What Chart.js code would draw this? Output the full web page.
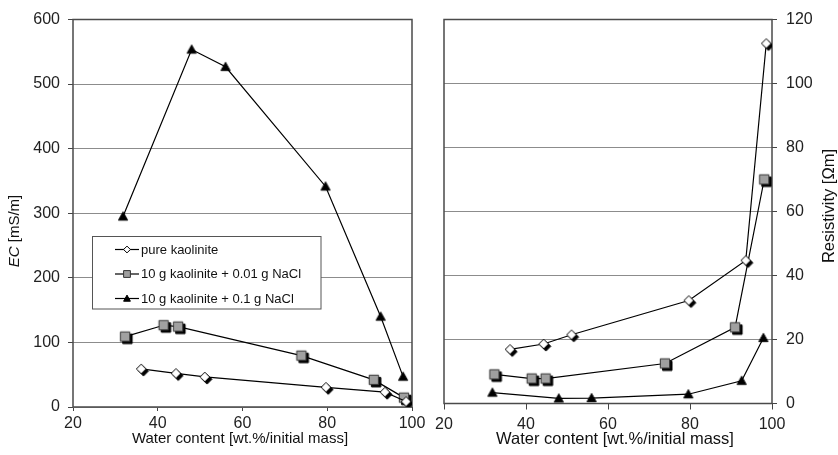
<!DOCTYPE html>
<html><head><meta charset="utf-8">
<script src="https://cdn.jsdelivr.net/npm/chart.js@4/dist/chart.umd.min.js"></script>
<style>
html,body{margin:0;padding:0;background:#fff;}
#wrap{position:relative;width:838px;height:455px;background:#fff;}
canvas{position:absolute;left:0;top:0;}
</style>
</head><body>
<div id="wrap"><canvas id="c1" width="838" height="455"></canvas><canvas id="c2" width="838" height="455"></canvas></div>
<script>
// ---- data ----
const seriesLabels = ["pure kaolinite", "10 g kaolinite + 0.01 g NaCl", "10 g kaolinite + 0.1 g NaCl"];
const waterPure  = [36.1, 44.3, 51.1, 79.7, 93.6, 98.6];
const waterNaCl1 = [32.3, 41.4, 44.8, 73.9, 91.0, 98.1];
const waterNaCl2 = [31.8, 48.0, 56.0, 79.6, 92.6, 97.9];
const ecPure  = [59, 52, 46.5, 30.5, 23, 8.5];
const ecNaCl1 = [109, 126.6, 124.5, 79.5, 42, 14.5];
const ecNaCl2 = [295, 553.5, 526.7, 341.5, 140, 47];
const resPure  = [16.9, 18.6, 21.5, 32.2, 44.7, 112.5];
const resNaCl1 = [9.1, 7.8, 7.8, 12.5, 23.8, 70];
const resNaCl2 = [3.4, 1.6, 1.7, 2.9, 7.1, 20.5];
const xTicks = [20, 40, 60, 80, 100];
const ecTicks = [0, 100, 200, 300, 400, 500, 600];
const resTicks = [0, 20, 40, 60, 80, 100, 120];
const xTitle = "Water content [wt.%/initial mass]";
const ecTitleItalic = "EC", ecTitleRest = " [mS/m]";
const resTitle = "Resistivity [Ωm]";

const FONT = "'Liberation Sans', Arial, Helvetica, sans-serif";
const kinds = ['diamond', 'square', 'tri'];

function drawShape(g, kind, x, y, r, fill, stroke) {
  g.beginPath();
  if (kind === 'diamond') { g.moveTo(x, y - r); g.lineTo(x + r, y); g.lineTo(x, y + r); g.lineTo(x - r, y); g.closePath(); }
  else if (kind === 'square') { g.rect(x - r, y - r, 2 * r, 2 * r); }
  else { g.moveTo(x, y - r); g.lineTo(x + r, y + r * 0.8); g.lineTo(x - r, y + r * 0.8); g.closePath(); }
  g.fillStyle = fill; g.fill();
  g.lineWidth = 1; g.strokeStyle = stroke; g.stroke();
}
const styleOf = {
  diamond: { r: 4.8, fill: '#fff', stroke: '#000' },
  square: { r: 4.7, fill: '#a0a0a0', stroke: '#333' },
  tri: { r: 4.6, fill: '#000', stroke: '#000' }
};
function markerCanvas(kind) {
  const s = 22, c = document.createElement('canvas'); c.width = s; c.height = s;
  const g = c.getContext('2d'); const st = styleOf[kind];
  if (kind !== 'tri') drawShape(g, kind, s / 2 + 2.3, s / 2 + 2.3, st.r, '#000', '#000');
  drawShape(g, kind, s / 2, s / 2, st.r, st.fill, st.stroke);
  return c;
}
const markers = kinds.map(markerCanvas);

function mk(xs, ys, i) {
  return {
    label: seriesLabels[i],
    data: xs.map((v, j) => ({ x: v, y: ys[j] })),
    showLine: true, borderColor: '#000', borderWidth: 1.2, tension: 0,
    pointStyle: markers[i], pointRadius: 5, pointHoverRadius: 5,
    backgroundColor: '#000'
  };
}

const boxPlugin = {
  id: 'boxPlugin',
  beforeDatasetsDraw(chart) {
    const a = chart.chartArea, ctx = chart.ctx;
    ctx.save(); ctx.strokeStyle = '#4a4a4a'; ctx.lineWidth = 1.5;
    ctx.strokeRect(a.left, a.top, a.right - a.left, a.bottom - a.top);
    ctx.restore();
  }
};

const legendPlugin = {
  id: 'legendPlugin',
  beforeDatasetsDraw(chart) {
    const ctx = chart.ctx;
    ctx.save();
    ctx.fillStyle = '#fff'; ctx.fillRect(92.5, 236.5, 228.5, 72.5);
    ctx.strokeStyle = '#555'; ctx.lineWidth = 1; ctx.strokeRect(92.5, 236.5, 228.5, 72.5);
    const rows = [249.5, 274, 298.5];
    ctx.font = '13px ' + FONT; ctx.textBaseline = 'middle'; ctx.textAlign = 'left'; ctx.fillStyle = '#111';
    rows.forEach((y, i) => {
      ctx.strokeStyle = '#000'; ctx.lineWidth = 1.2;
      ctx.beginPath(); ctx.moveTo(115, y); ctx.lineTo(139, y); ctx.stroke();
      const st = styleOf[kinds[i]];
      drawShape(ctx, kinds[i], 127, y, 3.4, st.fill, st.stroke);
      ctx.fillStyle = '#111';
      ctx.fillText(chart.data.datasets[i].label, 141, y + 0.5);
    });
    ctx.restore();
  }
};

function titlesPlugin(side) {
  return {
    id: 'titles' + side,
    afterDraw(chart) {
      const ctx = chart.ctx;
      ctx.save(); ctx.fillStyle = '#111'; ctx.textBaseline = 'middle';
      if (side === 'L') {
        ctx.font = '15px ' + FONT; ctx.textAlign = 'center';
        ctx.fillText(xTitle, 240, 439);
        ctx.translate(15, 231); ctx.rotate(-Math.PI / 2);
        ctx.font = 'italic 15px ' + FONT; const w1 = ctx.measureText(ecTitleItalic).width;
        ctx.font = '15px ' + FONT; const w2 = ctx.measureText(ecTitleRest).width;
        const x0 = -(w1 + w2) / 2;
        ctx.textAlign = 'left';
        ctx.font = 'italic 15px ' + FONT; ctx.fillText(ecTitleItalic, x0, 0);
        ctx.font = '15px ' + FONT; ctx.fillText(ecTitleRest, x0 + w1, 0);
      } else {
        ctx.font = '16.5px ' + FONT; ctx.textAlign = 'center';
        ctx.fillText(xTitle, 615, 439);
        ctx.translate(829, 206); ctx.rotate(-Math.PI / 2);
        ctx.font = '16.5px ' + FONT;
        ctx.fillText(resTitle, 0, 0);
      }
      ctx.restore();
    }
  };
}

function baseScales(yTicks, yPos, xh, yw, xTickLen, xPad) {
  return {
    x: {
      type: 'linear', min: xTicks[0], max: xTicks[xTicks.length - 1],
      afterBuildTicks(s) { s.ticks = xTicks.map(v => ({ value: v })); },
      ticks: { font: { size: 16, family: FONT }, color: '#222', padding: xPad, maxRotation: 0 },
      grid: { drawOnChartArea: false, drawTicks: true, tickLength: xTickLen, tickColor: '#444' },
      border: { display: false },
      afterFit(s) { s.height = xh; }
    },
    y: {
      type: 'linear', position: yPos, min: yTicks[0], max: yTicks[yTicks.length - 1],
      afterBuildTicks(s) { s.ticks = yTicks.map(v => ({ value: v })); },
      ticks: { font: { size: 16, family: FONT }, color: '#222', padding: yPos === 'left' ? 8 : 9 },
      grid: { color: '#8c8c8c', lineWidth: 1, tickLength: 5, tickColor: '#444' },
      border: { display: false },
      afterFit(s) { s.width = yw; }
    }
  };
}

new Chart(document.getElementById('c1'), {
  type: 'scatter',
  data: { datasets: [mk(waterPure, ecPure, 0), mk(waterNaCl1, ecNaCl1, 1), mk(waterNaCl2, ecNaCl2, 2)] },
  options: {
    responsive: false, animation: false, devicePixelRatio: 1,
    layout: { padding: { left: 0, right: 426, top: 19.5, bottom: 0 } },
    plugins: { legend: { display: false }, tooltip: { enabled: false } },
    scales: baseScales(ecTicks, 'left', 48, 73, 4, 3)
  },
  plugins: [boxPlugin, legendPlugin, titlesPlugin('L')]
});

new Chart(document.getElementById('c2'), {
  type: 'scatter',
  data: { datasets: [mk(waterPure, resPure, 0), mk(waterNaCl1, resNaCl1, 1), mk(waterNaCl2, resNaCl2, 2)] },
  options: {
    responsive: false, animation: false, devicePixelRatio: 1,
    layout: { padding: { left: 444, right: 0, top: 19.5, bottom: 0 } },
    plugins: { legend: { display: false }, tooltip: { enabled: false } },
    scales: baseScales(resTicks, 'right', 51.5, 66, 6, 5)
  },
  plugins: [boxPlugin, titlesPlugin('R')]
});
</script>
</body></html>
